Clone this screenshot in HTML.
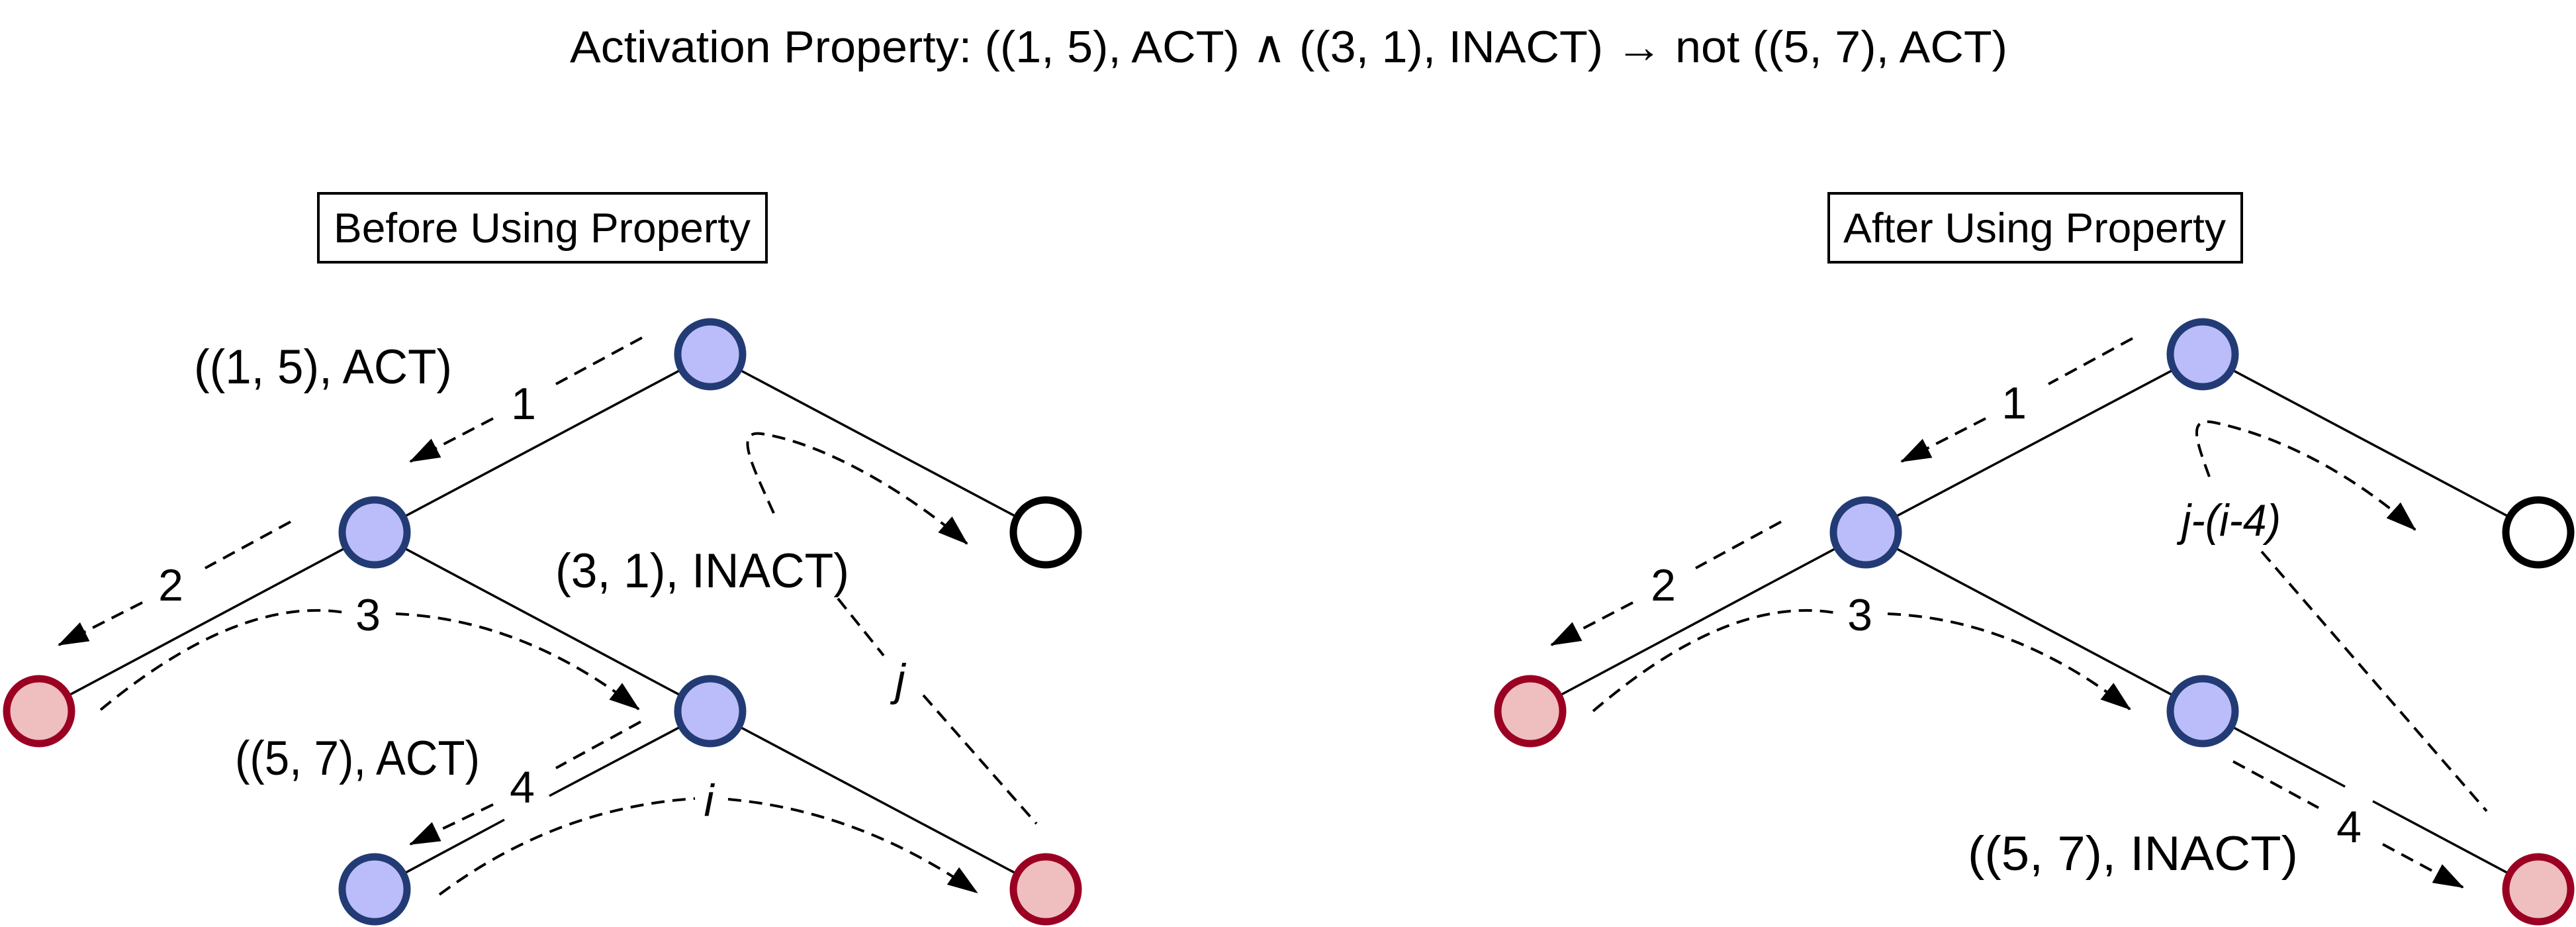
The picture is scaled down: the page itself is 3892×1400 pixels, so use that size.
<!DOCTYPE html>
<html><head><meta charset="utf-8"><style>
html,body{margin:0;padding:0;background:#fff;}
svg{display:block;}
text{font-family:"Liberation Sans",Arial,sans-serif;fill:#000;}
</style></head><body>
<svg width="3892" height="1400" viewBox="0 0 3892 1400" xmlns="http://www.w3.org/2000/svg">
<defs>
<marker id="ah" markerWidth="46" markerHeight="32" refX="44" refY="16" orient="auto" markerUnits="userSpaceOnUse">
<path d="M0,0 L46,16 L0,32 Z" fill="#000"/>
</marker>
</defs>

<text x="861" y="94" font-size="68" textLength="2172" lengthAdjust="spacingAndGlyphs">Activation Property: ((1, 5), ACT) ∧ ((3, 1), INACT) → not ((5, 7), ACT)</text>

<rect x="481" y="292" width="677" height="104" fill="none" stroke="#000" stroke-width="4"/>
<text x="504" y="366" font-size="63" textLength="630" lengthAdjust="spacingAndGlyphs">Before Using Property</text>
<rect x="2763" y="292" width="624" height="104" fill="none" stroke="#000" stroke-width="4"/>
<text x="2785" y="366" font-size="63" textLength="578" lengthAdjust="spacingAndGlyphs">After Using Property</text>

<g stroke="#000" stroke-width="3.5" fill="none">
<line x1="1073" y1="535" x2="566" y2="804"/>
<line x1="1073" y1="535" x2="1580" y2="804"/>
<line x1="566" y1="804" x2="59" y2="1074"/>
<line x1="566" y1="804" x2="1073" y2="1074"/>
<line x1="1073" y1="1074" x2="1580" y2="1343"/>
<line x1="1073" y1="1074" x2="830" y2="1202"/>
<line x1="762" y1="1238" x2="566" y2="1343"/>
<line x1="3328" y1="535" x2="2819" y2="804"/>
<line x1="3328" y1="535" x2="3835" y2="804"/>
<line x1="2819" y1="804" x2="2312" y2="1074"/>
<line x1="2819" y1="804" x2="3328" y2="1074"/>
<line x1="3328" y1="1074" x2="3543" y2="1188"/>
<line x1="3585" y1="1210" x2="3835" y2="1343"/>
</g>

<g stroke="#000" stroke-width="4" fill="none" stroke-dasharray="20,12">
<line x1="970" y1="510" x2="840" y2="580"/>
<line x1="745" y1="632" x2="620" y2="697" marker-end="url(#ah)"/>
<line x1="439" y1="788" x2="310" y2="858"/>
<line x1="215" y1="910" x2="89" y2="974" marker-end="url(#ah)"/>
<path d="M152,1072 Q360,900 520,925"/>
<path d="M598,927 Q790,935 965,1071" marker-end="url(#ah)"/>
<path d="M1169,775 C1135,700 1110,650 1150,655 C1250,670 1380,750 1461,821" marker-end="url(#ah)"/>
<line x1="1266" y1="904" x2="1335" y2="990"/>
<line x1="1395" y1="1050" x2="1566" y2="1244"/>
<line x1="968" y1="1090" x2="840" y2="1160"/>
<line x1="745" y1="1215" x2="620" y2="1275" marker-end="url(#ah)"/>
<path d="M664,1351 Q840,1220 1050,1206"/>
<path d="M1100,1207 Q1300,1225 1476,1348" marker-end="url(#ah)"/>
<line x1="3222" y1="511" x2="3095" y2="580"/>
<line x1="3000" y1="632" x2="2873" y2="697" marker-end="url(#ah)"/>
<line x1="2691" y1="788" x2="2562" y2="858"/>
<line x1="2467" y1="910" x2="2344" y2="974" marker-end="url(#ah)"/>
<path d="M2407,1074 Q2610,900 2770,925"/>
<path d="M2852,927 Q3045,935 3218,1071" marker-end="url(#ah)"/>
<path d="M3338,720 C3318,665 3305,630 3345,638 C3450,660 3560,720 3649,800" marker-end="url(#ah)"/>
<line x1="3417" y1="833" x2="3757" y2="1225"/>
<line x1="3374" y1="1150" x2="3503" y2="1220"/>
<line x1="3600" y1="1275" x2="3721" y2="1340" marker-end="url(#ah)"/>
</g>

<g stroke-width="11">
<circle cx="1073" cy="535" r="49" fill="#bbbdfa" stroke="#233b75"/>
<circle cx="566" cy="804" r="49" fill="#bbbdfa" stroke="#233b75"/>
<circle cx="1073" cy="1074" r="49" fill="#bbbdfa" stroke="#233b75"/>
<circle cx="566" cy="1343" r="49" fill="#bbbdfa" stroke="#233b75"/>
<circle cx="59" cy="1074" r="49" fill="#efbfbf" stroke="#9b0022"/>
<circle cx="1580" cy="1343" r="49" fill="#efbfbf" stroke="#9b0022"/>
<circle cx="1580" cy="804" r="49" fill="#fff" stroke="#000"/>
<circle cx="3328" cy="535" r="49" fill="#bbbdfa" stroke="#233b75"/>
<circle cx="2819" cy="804" r="49" fill="#bbbdfa" stroke="#233b75"/>
<circle cx="3328" cy="1074" r="49" fill="#bbbdfa" stroke="#233b75"/>
<circle cx="2312" cy="1074" r="49" fill="#efbfbf" stroke="#9b0022"/>
<circle cx="3835" cy="1343" r="49" fill="#efbfbf" stroke="#9b0022"/>
<circle cx="3835" cy="804" r="49" fill="#fff" stroke="#000"/>
</g>

<g font-size="73">
<text x="293" y="579" textLength="390" lengthAdjust="spacingAndGlyphs">((1, 5), ACT)</text>
<text x="839" y="887" textLength="444" lengthAdjust="spacingAndGlyphs">(3, 1), INACT)</text>
<text x="355" y="1170" textLength="370" lengthAdjust="spacingAndGlyphs">((5, 7), ACT)</text>
<text x="2973" y="1314" textLength="499" lengthAdjust="spacingAndGlyphs">((5, 7), INACT)</text>
</g>
<g font-size="68" text-anchor="middle">
<text x="791" y="633">1</text>
<text x="258" y="907">2</text>
<text x="556" y="952">3</text>
<text x="789" y="1212">4</text>
<text x="1360" y="1050" font-style="italic">j</text>
<text x="1071" y="1232" font-style="italic">i</text>
<text x="3043" y="632">1</text>
<text x="2513" y="907">2</text>
<text x="2810" y="952">3</text>
<text x="3549" y="1272">4</text>
<text x="3371" y="809" font-style="italic" textLength="150" lengthAdjust="spacingAndGlyphs">j-(i-4)</text>
</g>
</svg>
</body></html>
